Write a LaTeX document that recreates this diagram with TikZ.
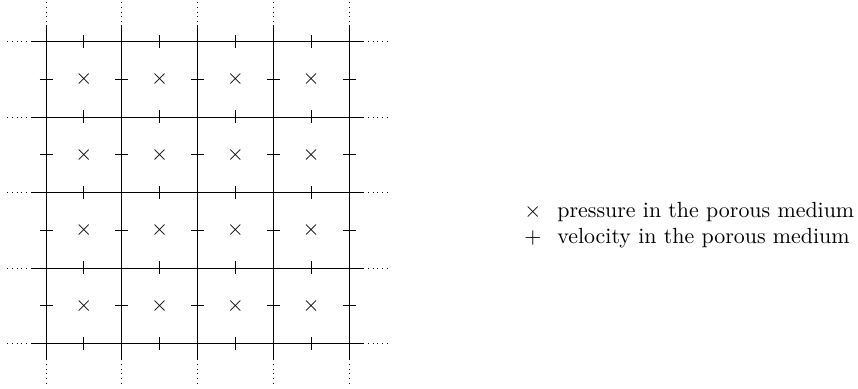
\documentclass[tikz,border=0pt]{standalone}
\begin{document}
\begin{tikzpicture}[x=0.5pt,y=-0.5pt,
  font=\fontsize{10.95}{13.6}\selectfont,
  gridline/.style={line width=0.4pt,black},
  dotline/.style={line width=0.4pt,black,dotted},
  tickline/.style={line width=0.4pt,black},
  symb/.style={inner sep=0pt,outer sep=0pt},
  legtext/.style={anchor=west,inner sep=0pt}]
\useasboundingbox (0,0) rectangle (858,389);
% vertical lines
\foreach \x in {46,121.75,197.5,273.25,349}{
  \draw[gridline] (\x,25) -- (\x,359);
  \draw[dotline] (\x,2) -- (\x,25);
  \draw[dotline] (\x,359) -- (\x,386);
}
% horizontal lines
\foreach \y in {41.5,117,192.5,268,343.5}{
  \draw[gridline] (31,\y) -- (363,\y);
  \draw[dotline] (7,\y) -- (31,\y);
  \draw[dotline] (363,\y) -- (390,\y);
}
% velocity ticks on vertical edges
\foreach \x in {46,121.75,197.5,273.25,349}{
  \foreach \y in {79.25,154.75,230.25,305.75}{
    \draw[tickline] (\x-6.5,\y) -- (\x+6.5,\y);
  }
}
% velocity ticks on horizontal edges
\foreach \x in {83.875,159.625,235.375,311.125}{
  \foreach \y in {41.5,117,192.5,268,343.5}{
    \draw[tickline] (\x,\y-6.5) -- (\x,\y+6.5);
  }
}
% pressure marks
\foreach \x [count=\i] in {83.875,159.625,235.375,311.125}{
  \foreach \y [count=\j] in {79.25,154.75,230.25,305.75}{
    \node[symb] (p-\i-\j) at (\x,\y) {$\times$};
  }
}
% legend
\node[symb] (lx) at (533,212) {$\times$};
\node[symb] (lp) at (533,238) {$+$};
\node[legtext] (tx) at (557,212) {pressure in the porous medium};
\node[legtext] (tp) at (557,238) {velocity in the porous medium};
\end{tikzpicture}
\end{document}
